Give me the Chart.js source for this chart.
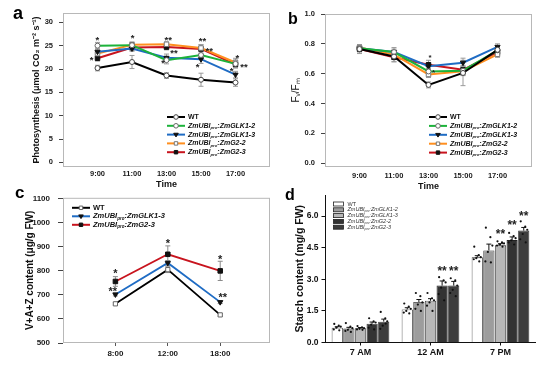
<!DOCTYPE html>
<html>
<head>
<meta charset="utf-8">
<script src="https://cdn.jsdelivr.net/npm/chart.js@4.4.0/dist/chart.umd.min.js"></script>
<style>
  body { margin: 0; background: #fff; }
  #wrap { position: relative; width: 550px; height: 367px; overflow: hidden; background: #fff; }
  canvas { position: absolute; }
</style>
</head>
<body>
<div id="wrap">
  <canvas id="chartA" width="275" height="190" style="left:0;top:0"></canvas>
  <canvas id="chartB" width="275" height="192" style="left:275px;top:0"></canvas>
  <canvas id="chartC" width="275" height="182" style="left:0;top:185px"></canvas>
  <canvas id="chartD" width="275" height="182" style="left:275px;top:185px"></canvas>
</div>
<script>
const FONT = "'Liberation Sans', Arial, Helvetica, sans-serif";

// series names (legend)
const seriesNames = ["WT", "ZmUBIpro:ZmGLK1-2", "ZmUBIpro:ZmGLK1-3", "ZmUBIpro:ZmG2-2", "ZmUBIpro:ZmG2-3"];

// panel a - photosynthesis
const hoursAB = [9, 11, 13, 15, 17];
const photoWT    = [20.2, 21.5, 18.6, 17.7, 17.1];
const photoGLK12 = [25.0, 25.1, 21.9, 23.0, 21.1];
const photoGLK13 = [23.7, 24.4, 22.4, 22.1, 18.8];
const photoG22   = [23.3, 25.2, 25.3, 24.5, 21.4];
const photoG23   = [22.3, 24.6, 24.7, 24.3, 21.0];
const photoErrWT    = [0.6, 1.4, 0.6, 1.4, 0.8];
const photoErrGLK12 = [0.7, 0.5, 0.8, 0.8, 0.8];
const photoErrGLK13 = [0.6, 0.6, 0.8, 0.9, 0.7];
const photoErrG22   = [0.6, 0.6, 0.5, 0.7, 0.9];
const photoErrG23   = [0.6, 0.6, 0.6, 0.9, 0.8];
const photoTicks = [0, 5, 10, 15, 20, 25, 30];
const photoStars = [
  [8.99, 26.6, "*"], [8.66, 22.4, "*"], [11.04, 27.1, "*"],
  [13.1, 26.7, "**"], [13.43, 23.8, "**"], [12.81, 21.7, "*"],
  [15.08, 26.4, "**"], [15.48, 24.4, "**"], [14.81, 21.0, "*"],
  [17.1, 22.8, "*"], [17.49, 21.0, "**"], [16.78, 20.0, "*"]
];

// panel b - Fv/Fm
const fvfmWT    = [0.765, 0.715, 0.525, 0.605, 0.76];
const fvfmGLK12 = [0.77, 0.745, 0.615, 0.62, 0.757];
const fvfmGLK13 = [0.77, 0.745, 0.65, 0.674, 0.78];
const fvfmG22   = [0.775, 0.728, 0.595, 0.617, 0.73];
const fvfmG23   = [0.765, 0.71, 0.66, 0.626, 0.745];
const fvfmErrWT    = [0.03, 0.035, 0.02, 0.085, 0.02];
const fvfmErrGLK12 = [0.02, 0.02, 0.02, 0.03, 0.02];
const fvfmErrGLK13 = [0.02, 0.03, 0.02, 0.03, 0.02];
const fvfmErrG22   = [0.02, 0.03, 0.02, 0.03, 0.02];
const fvfmErrG23   = [0.02, 0.03, 0.03, 0.03, 0.02];
const fvfmTicks = [0, 0.2, 0.4, 0.6, 0.8, 1.0];
const fvfmStars = [[13.09, 0.718, "*"], [13.3, 0.62, "*"]];

// panel c - V+A+Z
const timesC = ["8:00", "12:00", "18:00"];
const vazWT    = [663, 805, 617];
const vazGLK13 = [702, 833, 670];
const vazG23   = [756, 869, 800];
const vazErrWT    = [5, 12, 5];
const vazErrGLK13 = [6, 10, 6];
const vazErrG23   = [20, 35, 40];
const vazTicks = [500, 600, 700, 800, 900, 1000, 1100];
const vazStars = [[0, 800, "*"], [-0.05, 726, "**"], [1, 924, "*"], [2, 860, "*"], [2.05, 700, "**"]];

// panel d - starch
const starchLabels = ["7 AM", "12 AM", "7 PM"];
const starchWT    = [0.70, 1.57, 4.04];
const starchGLK12 = [0.66, 1.92, 4.37];
const starchGLK13 = [0.68, 1.98, 4.61];
const starchG22   = [0.89, 2.70, 4.86];
const starchG23   = [0.99, 2.70, 5.31];
const starchErrWT    = [0.05, 0.08, 0.08];
const starchErrGLK12 = [0.06, 0.12, 0.30];
const starchErrGLK13 = [0.03, 0.10, 0.08];
const starchErrG22   = [0.08, 0.22, 0.15];
const starchErrG23   = [0.12, 0.20, 0.15];
const starchDotsWT    = [[0.88, 0.80, 0.75, 0.70, 0.62, 0.58], [1.85, 1.70, 1.60, 1.50, 1.42, 1.38], [4.55, 4.15, 4.05, 4.00, 3.95, 3.85]];
const starchDotsGLK12 = [[0.92, 0.75, 0.68, 0.60, 0.55, 0.50], [2.35, 2.20, 1.90, 1.80, 1.60, 1.50], [5.45, 5.00, 4.60, 4.30, 3.85, 3.80]];
const starchDotsGLK13 = [[0.78, 0.72, 0.68, 0.65, 0.62, 0.60], [2.35, 2.10, 2.00, 1.90, 1.75, 1.50], [4.80, 4.75, 4.70, 4.65, 4.60, 4.55]];
const starchDotsG22   = [[1.15, 1.00, 0.95, 0.85, 0.70, 0.62], [3.10, 2.95, 2.85, 2.60, 2.30, 2.00], [5.20, 5.05, 4.95, 4.85, 4.75, 4.65]];
const starchDotsG23   = [[1.45, 1.15, 1.00, 0.80, 0.65, 0.90], [3.05, 2.95, 2.70, 2.50, 2.35, 2.20], [5.75, 5.50, 5.35, 5.15, 4.90, 4.75]];
const starchTicks = [0, 1.5, 3.0, 4.5, 6.0];
const starchStars = [[1, 3, 3.52, "**"], [1, 4, 3.52, "**"], [2, 2, 5.28, "**"], [2, 3, 5.71, "**"], [2, 4, 6.15, "**"]];

// ---------- helpers ----------
function drawMarker(c, style, x, y, r, fill, stroke) {
  c.beginPath();
  if (style === "rect") c.rect(x - r * 0.75, y - r * 0.75, r * 1.5, r * 1.5);
  else if (style === "triangle") { c.moveTo(x - r, y - r * 0.6); c.lineTo(x + r, y - r * 0.6); c.lineTo(x, y + r); c.closePath(); }
  else c.arc(x, y, r, 0, Math.PI * 2);
  c.fillStyle = fill; c.fill();
  c.lineWidth = 1; c.strokeStyle = stroke; c.stroke();
}

function drawName(c, name, x, y, size, weight) {
  const parts = name.split("pro:");
  c.textAlign = "left";
  c.textBaseline = "middle";
  if (parts.length === 1) {
    c.font = weight + " " + size + "px " + FONT;
    c.fillText(name, x, y);
    return;
  }
  c.font = "italic " + weight + " " + size + "px " + FONT;
  c.fillText(parts[0], x, y);
  x += c.measureText(parts[0]).width;
  c.font = "italic " + weight + " " + (size * 0.6) + "px " + FONT;
  c.fillText("pro", x, y + size * 0.32);
  x += c.measureText("pro").width;
  c.font = "italic " + weight + " " + size + "px " + FONT;
  c.fillText(":" + parts[1], x, y);
}

// frame, error bars, dots, stars, legend and panel letter
function extras(cfg) {
  return {
    id: "extras",
    beforeDatasetsDraw(chart) {
      const c = chart.ctx, ys = chart.scales.y, a = chart.chartArea;
      c.save();
      if (cfg.frame) {
        c.strokeStyle = "#b8b8b8"; c.lineWidth = 1;
        c.strokeRect(a.left + 0.5, a.top + 0.5, a.width - 1, a.height - 1);
      }
      if (cfg.errors && !cfg.bars) {
        c.strokeStyle = cfg.errColor; c.lineWidth = 1;
        cfg.errors.forEach((errs, i) => {
          chart.getDatasetMeta(i).data.forEach((pt, j) => {
            const v = chart.data.datasets[i].data[j].y;
            const top = ys.getPixelForValue(v + errs[j]), bot = ys.getPixelForValue(v - errs[j]);
            c.beginPath();
            c.moveTo(pt.x, top); c.lineTo(pt.x, bot);
            c.moveTo(pt.x - 2.5, top); c.lineTo(pt.x + 2.5, top);
            c.moveTo(pt.x - 2.5, bot); c.lineTo(pt.x + 2.5, bot);
            c.stroke();
          });
        });
      }
      c.restore();
    },
    afterDatasetsDraw(chart) {
      const c = chart.ctx, xs = chart.scales.x, ys = chart.scales.y, a = chart.chartArea;
      c.save();
      if (cfg.bars) {
        const jitter = [-3, 1.5, 3.5, -1, -3.5, 2];
        chart.data.datasets.forEach((ds, i) => {
          chart.getDatasetMeta(i).data.forEach((bar, j) => {
            const top = ys.getPixelForValue(ds.data[j] + cfg.errors[i][j]);
            c.strokeStyle = "#111"; c.lineWidth = 1;
            c.beginPath();
            c.moveTo(bar.x, bar.y); c.lineTo(bar.x, top);
            c.moveTo(bar.x - 2.5, top); c.lineTo(bar.x + 2.5, top);
            c.stroke();
            c.fillStyle = "#111";
            cfg.dots[i][j].forEach((v, k) => {
              c.beginPath();
              c.arc(bar.x + jitter[k % jitter.length], ys.getPixelForValue(v), 1.1, 0, Math.PI * 2);
              c.fill();
            });
          });
        });
      }
      // stars
      c.fillStyle = "#222";
      c.textAlign = "center";
      c.textBaseline = "alphabetic";
      c.font = "bold " + cfg.starSize + "px " + FONT;
      cfg.stars.forEach(s => {
        let px, py, t;
        if (cfg.bars) { px = chart.getDatasetMeta(s[1]).data[s[0]].x; py = ys.getPixelForValue(s[2]); t = s[3]; }
        else { px = xs.getPixelForValue(s[0]); py = ys.getPixelForValue(s[1]); t = s[2]; }
        c.fillText(t, px, py + cfg.starSize * 0.55);
      });
      // legend
      const L = cfg.legend;
      chart.data.datasets.forEach((ds, i) => {
        const ly = a.top + L.y + i * L.dy;
        const lx = a.left + L.x;
        if (cfg.bars) {
          c.fillStyle = ds.backgroundColor; c.strokeStyle = "#222"; c.lineWidth = 0.8;
          c.fillRect(lx, ly - 2, 10, 4); c.strokeRect(lx, ly - 2, 10, 4);
          c.fillStyle = "#333";
          drawName(c, ds.label, lx + 14, ly, L.size, "normal");
        } else {
          c.strokeStyle = ds.borderColor; c.lineWidth = 2;
          c.beginPath(); c.moveTo(lx, ly); c.lineTo(lx + L.len, ly); c.stroke();
          drawMarker(c, ds.pointStyle, lx + L.len / 2, ly, 2.3, ds.pointBackgroundColor, ds.pointBorderColor);
          c.fillStyle = "#111";
          drawName(c, ds.label, lx + L.len + 3, ly, L.size, "bold");
        }
      });
      // panel letter
      c.fillStyle = "#000";
      c.textAlign = "left";
      c.textBaseline = "alphabetic";
      c.font = "bold " + cfg.letter[3] + "px " + FONT;
      c.fillText(cfg.letter[0], cfg.letter[1], cfg.letter[2]);
      c.restore();
    }
  };
}

const markWT    = { pointStyle: "circle", pointRadius: 2.5, pointBackgroundColor: "#ffffff", pointBorderColor: "#444444" };
const markGLK12 = { pointStyle: "circle", pointRadius: 2.5, pointBackgroundColor: "#ffffff", pointBorderColor: "#666666" };
const markGLK13 = { pointStyle: "triangle", pointRotation: 180, pointRadius: 3, pointBackgroundColor: "#111111", pointBorderColor: "#111111" };
const markG22   = { pointStyle: "rect", pointRadius: 3.2, pointBackgroundColor: "#ffffff", pointBorderColor: "#777777" };
const markG23   = { pointStyle: "rect", pointRadius: 3.2, pointBackgroundColor: "#111111", pointBorderColor: "#111111" };

function lineSet(label, xs, ys, color, mark, width) {
  return Object.assign({
    label: label,
    data: xs.map((x, k) => ({ x: x, y: ys[k] })),
    borderColor: color,
    borderWidth: width,
    tension: 0,
    pointBorderWidth: 1
  }, mark);
}

function tickFont(size) {
  return { family: FONT, size: size, weight: "bold" };
}

document.addEventListener("DOMContentLoaded", () => {
  const ctxA = document.getElementById("chartA").getContext("2d");
  const ctxB = document.getElementById("chartB").getContext("2d");
  const ctxC = document.getElementById("chartC").getContext("2d");
  const ctxD = document.getElementById("chartD").getContext("2d");

  // a - photosynthesis
  new Chart(ctxA, {
    type: "line",
    data: {
      datasets: [
        lineSet(seriesNames[0], hoursAB, photoWT, "#000000", markWT, 2),
        lineSet(seriesNames[1], hoursAB, photoGLK12, "#1cb33a", markGLK12, 2),
        lineSet(seriesNames[2], hoursAB, photoGLK13, "#1f6cc4", markGLK13, 2),
        lineSet(seriesNames[3], hoursAB, photoG22, "#ff8f1f", markG22, 2),
        lineSet(seriesNames[4], hoursAB, photoG23, "#c8141e", markG23, 2)
      ]
    },
    options: {
      responsive: false,
      animation: false,
      layout: { padding: { left: 31, top: 13, right: 5, bottom: 0 } },
      scales: {
        x: {
          type: "linear", min: 7, max: 19,
          afterBuildTicks: s => { s.ticks = hoursAB.map(v => ({ value: v })); },
          afterFit: s => { s.height = 23; },
          grid: { display: false, drawTicks: false },
          border: { display: false },
          ticks: { padding: 2, autoSkip: false, maxRotation: 0, color: "#1a1a1a", font: tickFont(7.5), callback: v => v + ":00" },
          title: { display: true, text: "Time", color: "#111", padding: { top: 2, bottom: 0 }, font: tickFont(9) }
        },
        y: {
          min: -1, max: 32,
          afterBuildTicks: s => { s.ticks = photoTicks.map(v => ({ value: v })); },
          afterFit: s => { s.width = 32; },
          grid: { drawOnChartArea: false, tickLength: 4, color: "#444" },
          border: { display: false },
          ticks: { padding: 6, color: "#1a1a1a", font: tickFont(7.5) },
          title: { display: true, text: "Photosynthesis (\u03bcmol CO\u2082 m\u207b\u00b2 s\u207b\u00b9)", color: "#111", padding: 0, font: tickFont(9) }
        }
      },
      plugins: { legend: { display: false }, tooltip: { enabled: false } }
    },
    plugins: [extras({
      frame: true, errColor: "#9a9a9a",
      errors: [photoErrWT, photoErrGLK12, photoErrGLK13, photoErrG22, photoErrG23],
      stars: photoStars, starSize: 9.5,
      legend: { x: 104, y: 104, dy: 8.8, len: 18, size: 7 },
      letter: ["a", 13, 19, 18]
    })]
  });

  // b - Fv/Fm
  new Chart(ctxB, {
    type: "line",
    data: {
      datasets: [
        lineSet(seriesNames[0], hoursAB, fvfmWT, "#000000", markWT, 2),
        lineSet(seriesNames[1], hoursAB, fvfmGLK12, "#1cb33a", markGLK12, 2),
        lineSet(seriesNames[2], hoursAB, fvfmGLK13, "#1f6cc4", markGLK13, 2),
        lineSet(seriesNames[3], hoursAB, fvfmG22, "#ff8f1f", markG22, 2),
        lineSet(seriesNames[4], hoursAB, fvfmG23, "#c8141e", markG23, 2)
      ]
    },
    options: {
      responsive: false,
      animation: false,
      layout: { padding: { left: 15, top: 14, right: 18, bottom: 0 } },
      scales: {
        x: {
          type: "linear", min: 7, max: 19,
          afterBuildTicks: s => { s.ticks = hoursAB.map(v => ({ value: v })); },
          afterFit: s => { s.height = 25; },
          grid: { display: false, drawTicks: false },
          border: { display: false },
          ticks: { padding: 4, autoSkip: false, maxRotation: 0, color: "#1a1a1a", font: tickFont(7.5), callback: v => v + ":00" },
          title: { display: true, text: "Time", color: "#111", padding: 0, font: tickFont(9) }
        },
        y: {
          min: -0.025, max: 1.0,
          afterBuildTicks: s => { s.ticks = fvfmTicks.map(v => ({ value: v })); },
          afterFit: s => { s.width = 35; },
          grid: { drawOnChartArea: false, tickLength: 4, color: "#444" },
          border: { display: false },
          ticks: { padding: 6, color: "#1a1a1a", font: tickFont(7.5), callback: v => v.toFixed(1) },
          title: { display: true, text: "F\u1d65/F\u2098", color: "#111", padding: 0, font: { family: FONT, size: 10 } }
        }
      },
      plugins: { legend: { display: false }, tooltip: { enabled: false } }
    },
    plugins: [extras({
      frame: true, errColor: "#9a9a9a",
      errors: [fvfmErrWT, fvfmErrGLK12, fvfmErrGLK13, fvfmErrG22, fvfmErrG23],
      stars: fvfmStars, starSize: 8,
      legend: { x: 104, y: 103, dy: 8.9, len: 18, size: 7 },
      letter: ["b", 13, 24, 16]
    })]
  });

  // c - V+A+Z content
  const idxC = timesC.map((t, k) => k);
  new Chart(ctxC, {
    type: "line",
    data: {
      datasets: [
        lineSet(seriesNames[0], idxC, vazWT, "#000000", { pointStyle: "rect", pointRadius: 3, pointBackgroundColor: "#ffffff", pointBorderColor: "#666666" }, 1.8),
        lineSet(seriesNames[2], idxC, vazGLK13, "#1f6cc4", markGLK13, 1.8),
        lineSet(seriesNames[4], idxC, vazG23, "#c8141e", markG23, 1.8)
      ]
    },
    options: {
      responsive: false,
      animation: false,
      layout: { padding: { left: 24, top: 7, right: 3, bottom: 0 } },
      scales: {
        x: {
          type: "linear", min: -1, max: 2.95,
          afterBuildTicks: s => { s.ticks = idxC.map(v => ({ value: v })); },
          afterFit: s => { s.height = 24; },
          grid: { drawOnChartArea: false, tickLength: 3, color: "#555" },
          border: { display: false },
          ticks: { padding: 3, autoSkip: false, maxRotation: 0, color: "#1a1a1a", font: tickFont(8), callback: v => timesC[v] },
        },
        y: {
          min: 500, max: 1104,
          afterBuildTicks: s => { s.ticks = vazTicks.map(v => ({ value: v })); },
          afterFit: s => { s.width = 39; },
          grid: { drawOnChartArea: false, tickLength: 5, color: "#444" },
          border: { display: false },
          ticks: { padding: 8, color: "#1a1a1a", font: tickFont(8), callback: v => String(v) },
          title: { display: true, text: "V+A+Z content (\u03bcg/g FW)", color: "#111", padding: 0, font: tickFont(10) }
        }
      },
      plugins: { legend: { display: false }, tooltip: { enabled: false } }
    },
    plugins: [extras({
      frame: true, errColor: "#8a8a8a",
      errors: [vazErrWT, vazErrGLK13, vazErrG23],
      stars: vazStars, starSize: 11,
      legend: { x: 9, y: 10, dy: 8.5, len: 18, size: 7.5 },
      letter: ["c", 15, 13, 17]
    })]
  });

  // d - starch content
  const barColors = ["#ffffff", "#9d9d9d", "#b8b8b8", "#333333", "#3d3d3d"];
  const starchSets = [starchWT, starchGLK12, starchGLK13, starchG22, starchG23];
  new Chart(ctxD, {
    type: "bar",
    data: {
      labels: starchLabels,
      datasets: starchSets.map((vals, i) => ({
        label: seriesNames[i],
        data: vals,
        backgroundColor: barColors[i],
        borderColor: "#222222",
        borderWidth: 0.8,
        categoryPercentage: 0.83,
        barPercentage: 0.96
      }))
    },
    options: {
      responsive: false,
      animation: false,
      layout: { padding: { left: 19, top: 10, right: 14.5, bottom: 0 } },
      scales: {
        x: {
          afterFit: s => { s.height = 24.5; },
          grid: { drawOnChartArea: false, offset: false, tickLength: 3, color: "#111" },
          border: { color: "#111" },
          ticks: { padding: 2, color: "#111", font: tickFont(9) }
        },
        y: {
          min: 0, max: 7,
          afterBuildTicks: s => { s.ticks = starchTicks.map(v => ({ value: v })); },
          afterFit: s => { s.width = 31.5; },
          grid: { drawOnChartArea: false, tickLength: 4, color: "#111" },
          border: { color: "#111" },
          ticks: { padding: 3, color: "#111", font: tickFont(8.5), callback: v => v.toFixed(1) },
          title: { display: true, text: "Starch content (mg/g FW)", color: "#111", padding: 0, font: tickFont(10.5) }
        }
      },
      plugins: { legend: { display: false }, tooltip: { enabled: false } }
    },
    plugins: [extras({
      bars: true,
      errors: [starchErrWT, starchErrGLK12, starchErrGLK13, starchErrG22, starchErrG23],
      dots: [starchDotsWT, starchDotsGLK12, starchDotsGLK13, starchDotsG22, starchDotsG23],
      stars: starchStars, starSize: 12,
      legend: { x: 8, y: 9, dy: 5.8, size: 5.5 },
      letter: ["d", 10, 15, 16]
    })]
  });
});
</script>
</body>
</html>
